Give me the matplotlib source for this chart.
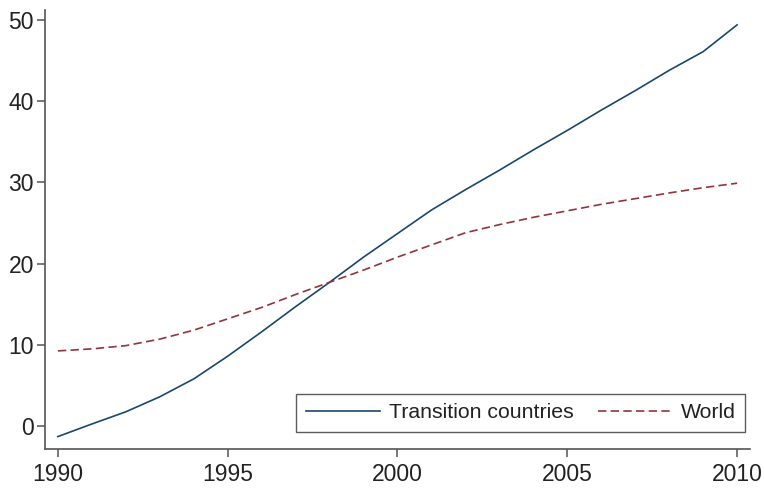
import numpy as np
import matplotlib
matplotlib.use("Agg")
import matplotlib.pyplot as plt

plt.rcParams["font.family"] = ["Liberation Sans", "DejaVu Sans"]

years = np.arange(1990, 2011)
transition = [-1.3, 0.25, 1.75, 3.6, 5.8, 8.6, 11.6, 14.7, 17.7, 20.8, 23.7,
              26.6, 29.1, 31.5, 34.0, 36.4, 38.9, 41.3, 43.8, 46.1, 49.4]
world = [9.25, 9.5, 9.9, 10.7, 11.8, 13.2, 14.6, 16.2, 17.7, 19.2, 20.8,
         22.3, 23.8, 24.8, 25.7, 26.5, 27.3, 28.0, 28.7, 29.35, 29.9]
yticks = [0, 10, 20, 30, 40, 50]
xticks = [1990, 1995, 2000, 2005, 2010]

fig = plt.figure(figsize=(7.64, 4.93), dpi=100)
ax = fig.add_axes([45 / 764, 44 / 493, 705 / 764, 439 / 493])

ax.plot(years, transition, color="#1a476f", lw=1.2, label="Transition countries")
ax.plot(years, world, color="#90353b", lw=1.2, dashes=(5, 2.6), label="World")

ax.set_xlim(1989.62, 2010.38)
ax.set_ylim(-2.83, 51.23)
ax.set_xticks(xticks)
ax.set_yticks(yticks)

for side in ["top", "right"]:
    ax.spines[side].set_visible(False)
for side in ["left", "bottom"]:
    ax.spines[side].set_color("#555555")
    ax.spines[side].set_linewidth(1.2)
ax.tick_params(axis="both", direction="out", length=6, width=1.1,
               color="#555555", labelsize=16.5, labelcolor="#222222")
ax.tick_params(axis="x", pad=4)
ax.tick_params(axis="y", pad=2)

leg = ax.legend(loc="lower right", bbox_to_anchor=(0.993, 0.039), ncol=2,
                frameon=True, fancybox=False, borderaxespad=0, fontsize=15.3,
                handlelength=3.5, handletextpad=0.4, columnspacing=1.15,
                borderpad=0.45)
leg.get_frame().set_edgecolor("#333333")
leg.get_frame().set_linewidth(1.0)
for t in leg.get_texts():
    t.set_color("#222222")

fig.savefig("out.png", dpi=100)
plt.close(fig)
